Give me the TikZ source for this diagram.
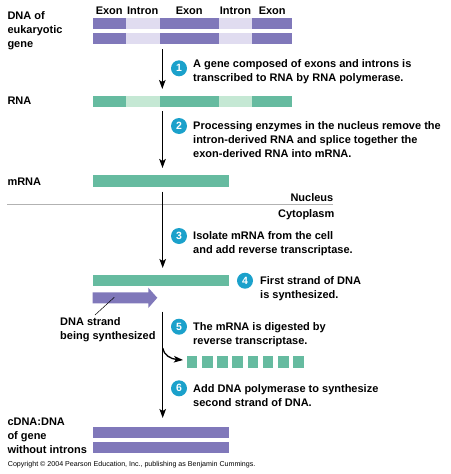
\documentclass[tikz,border=0pt]{standalone}
\usepackage{fontspec}
\setmainfont{Liberation Sans}
\usetikzlibrary{arrows.meta}
\definecolor{exonc}{HTML}{8078BA}
\definecolor{intronc}{HTML}{E0DCF0}
\definecolor{rnaex}{HTML}{66BBA0}
\definecolor{rnain}{HTML}{C5E8D4}
\definecolor{numc}{HTML}{1BA1CB}
\begin{document}
\begin{tikzpicture}[x=1pt,y=-1pt,
    lbl/.style={anchor=base west,inner sep=0pt,align=left,font=\fontsize{11}{14}\selectfont\bfseries},
    seg/.style={anchor=base,inner sep=0pt,font=\fontsize{11}{14}\selectfont\bfseries},
    num/.style={circle,fill=numc,text=white,inner sep=0pt,minimum size=16pt,font=\fontsize{10.5}{10}\selectfont\bfseries},
    flow/.style={line width=1.3pt,-{Stealth[length=9pt,width=6.5pt,inset=2pt]}}]
\useasboundingbox (0,0) rectangle (450,474);
\node (dna) at (7.3,47.5) [lbl] {DNA of\\eukaryotic\\gene};
\node (e1) at (109.2,14.7) [seg] {Exon};
\node (i1) at (142.7,14.7) [seg] {Intron};
\node (e2) at (189.2,14.7) [seg] {Exon};
\node (i2) at (235.5,14.7) [seg] {Intron};
\node (e3) at (272.2,14.7) [seg] {Exon};
\fill[exonc] (92.7,18.3) rectangle (125.7,29.3);
\fill[intronc] (125.7,18.3) rectangle (159.7,29.3);
\fill[exonc] (159.7,18.3) rectangle (218.7,29.3);
\fill[intronc] (218.7,18.3) rectangle (252.3,29.3);
\fill[exonc] (252.3,18.3) rectangle (292,29.3);
\fill[exonc] (92.7,33.3) rectangle (125.7,44.3);
\fill[intronc] (125.7,33.3) rectangle (159.7,44.3);
\fill[exonc] (159.7,33.3) rectangle (218.7,44.3);
\fill[intronc] (218.7,33.3) rectangle (252.3,44.3);
\fill[exonc] (252.3,33.3) rectangle (292,44.3);
\coordinate (a1) at (162.3,49);
\coordinate (b1) at (162.3,89);
\draw[flow] (a1) -- (b1);
\node (n1) at (179,68.3) [num] {1};
\node (t1) at (193,81.4) [lbl] {A gene composed of exons and introns is\\transcribed to RNA by RNA polymerase.};
\node (rna) at (7.3,104.9) [lbl] {RNA};
\fill[rnaex] (92.7,96) rectangle (125.7,106.7);
\fill[rnain] (125.7,96) rectangle (159.7,106.7);
\fill[rnaex] (159.7,96) rectangle (218.7,106.7);
\fill[rnain] (218.7,96) rectangle (252.3,106.7);
\fill[rnaex] (252.3,96) rectangle (292,106.7);
\coordinate (a2) at (162.5,111);
\coordinate (b2) at (162.5,168);
\draw[flow] (a2) -- (b2);
\node (n2) at (179,126) [num] {2};
\node (t2) at (193,157.6) [lbl] {Processing enzymes in the nucleus remove the\\intron-derived RNA and splice together the\\exon-derived RNA into mRNA.};
\node (mrna) at (7.3,185.6) [lbl] {mRNA};
\fill[rnaex] (92.7,175) rectangle (229.3,186.7);
\draw[black!30, line width=0.8pt] (7.3,204.3) -- (333,204.3);
\node (nuc) at (333.5,201.6) [lbl,anchor=base east] {Nucleus};
\node (cyt) at (334.5,217.2) [lbl,anchor=base east] {Cytoplasm};
\coordinate (a3) at (162.7,191.7);
\coordinate (b3) at (162.7,268);
\draw[flow] (a3) -- (b3);
\node (n3) at (179,236) [num] {3};
\node (t3) at (193,253.9) [lbl] {Isolate mRNA from the cell\\and add reverse transcriptase.};
\fill[rnaex] (92.7,275) rectangle (229.3,286);
\node (n4) at (245,280.7) [num] {4};
\node (t4) at (260,298.3) [lbl] {First strand of DNA\\is synthesized.};
\fill[exonc] (92.7,292.3) -- (148.3,292.3) -- (148.3,287.7) -- (157.3,297.8) -- (148.3,308) -- (148.3,303.3) -- (92.7,303.3) -- cycle;
\coordinate (p1) at (95,315);
\coordinate (p2) at (114.3,297.3);
\draw[line width=0.5pt] (p1) -- (p2);
\node (strand) at (60,339.6) [lbl] {DNA strand\\being synthesized};
\coordinate (a4) at (162.7,311.7);
\coordinate (b4) at (162.7,418);
\draw[flow] (a4) -- (b4);
\coordinate (c5) at (162.7,348);
\coordinate (d5) at (183,360);
\draw[flow] (c5) .. controls (163.5,355) and (171,359) .. (d5);
\node (n5) at (179,326.7) [num] {5};
\node (t5) at (193,344.6) [lbl] {The mRNA is digested by\\reverse transcriptase.};
\fill[rnaex] (186.7,356) rectangle (197.4,367.7);
\fill[rnaex] (201.9,356) rectangle (212.6,367.7);
\fill[rnaex] (217.1,356) rectangle (227.8,367.7);
\fill[rnaex] (232.3,356) rectangle (243,367.7);
\fill[rnaex] (247.5,356) rectangle (258.2,367.7);
\fill[rnaex] (262.7,356) rectangle (273.4,367.7);
\fill[rnaex] (277.9,356) rectangle (288.6,367.7);
\fill[rnaex] (293.1,356) rectangle (303.8,367.7);
\node (n6) at (179,388.3) [num] {6};
\node (t6) at (193,406.2) [lbl] {Add DNA polymerase to synthesize\\second strand of DNA.};
\node (cdna) at (7.3,453.3) [lbl] {cDNA:DNA\\of gene\\without introns};
\fill[exonc] (92.7,426.7) rectangle (229.3,437.7);
\fill[exonc] (92.7,442.3) rectangle (229.3,452.7);
\node (copy) at (7.7,466.5) [anchor=base west,inner sep=0pt,font=\fontsize{7.1}{8}\selectfont] {Copyright \textcopyright{} 2004 Pearson Education, Inc., publishing as Benjamin Cummings.};
\end{tikzpicture}
\end{document}
